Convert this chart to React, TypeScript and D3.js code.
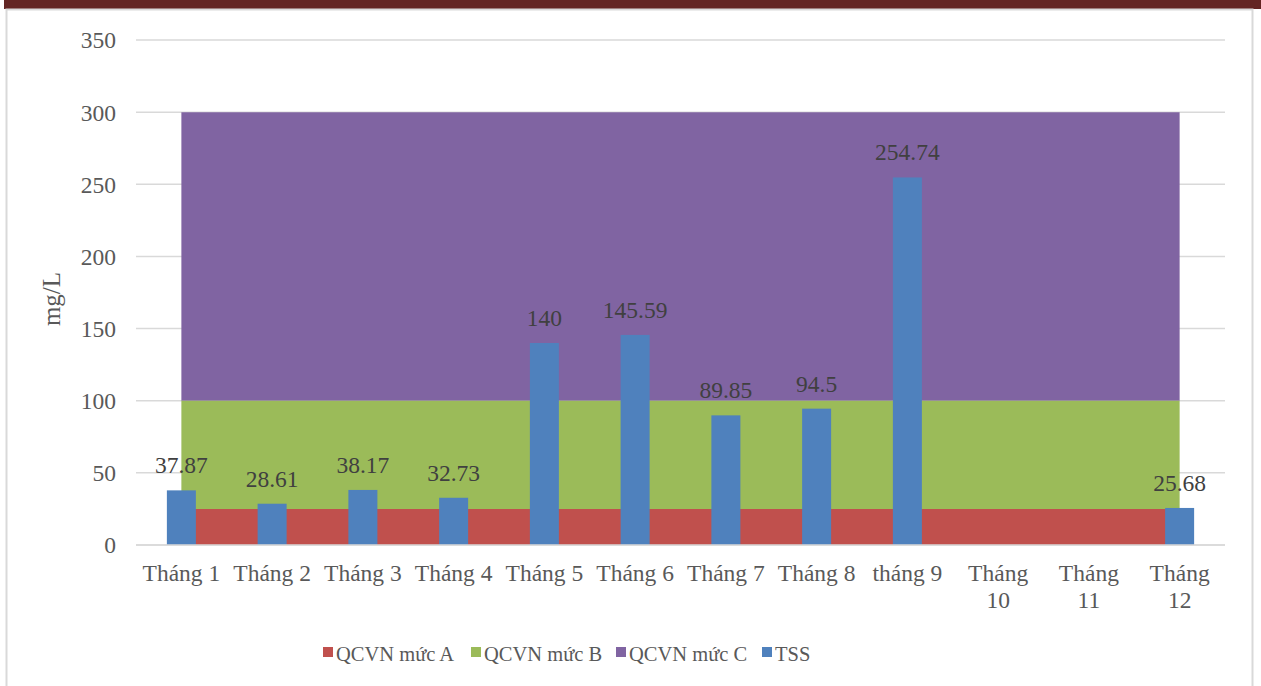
import React from "react";
import * as d3 from "d3";

const categories = ["Tháng 1", "Tháng 2", "Tháng 3", "Tháng 4", "Tháng 5", "Tháng 6", "Tháng 7", "Tháng 8", "tháng 9", "Tháng 10", "Tháng 11", "Tháng 12"];
const tss: (number | null)[] = [37.87, 28.61, 38.17, 32.73, 140, 145.59, 89.85, 94.5, 254.74, null, null, 25.68];
const qcvnA = [25, 25, 25, 25, 25, 25, 25, 25, 25, 25, 25, 25];
const qcvnB = [100, 100, 100, 100, 100, 100, 100, 100, 100, 100, 100, 100];
const qcvnC = [300, 300, 300, 300, 300, 300, 300, 300, 300, 300, 300, 300];
const yTicks = [0, 50, 100, 150, 200, 250, 300, 350];
const legendItems = ["QCVN mức A", "QCVN mức B", "QCVN mức C", "TSS"];

const COLORS = { A: "#C0504D", B: "#9BBB59", C: "#8064A2", TSS: "#4F81BD" };
const W = 1261, H = 686;
const plot = { left: 136, right: 1225, top: 40, bottom: 545 };
const FONT = "'Liberation Serif', 'Times New Roman', serif";
const TEXT = "#595959";

export default function App() {
  const x = d3.scaleBand<string>().domain(categories).range([plot.left, plot.right]).paddingInner(0).paddingOuter(0);
  const cx = (c: string) => (x(c) as number) + x.bandwidth() / 2;
  const y = d3.scaleLinear().domain([0, 350]).range([plot.bottom, plot.top]);
  const barW = 29;

  const areaGen = (lo: number[], hi: number[]) =>
    d3.area<number>()
      .x((_, i) => cx(categories[i]))
      .y0((_, i) => y(lo[i]))
      .y1((_, i) => y(hi[i]))(hi.map((v) => v)) as string;

  const zeros = qcvnA.map(() => 0);
  const legendColors = [COLORS.A, COLORS.B, COLORS.C, COLORS.TSS];
  const legendX = [323, 471, 616, 762];

  return (
    <svg width={W} height={H} style={{ position: "absolute", left: 0, top: 0, display: "block" }} fontFamily={FONT}>
      <rect x={0} y={0} width={W} height={H} fill="#ffffff" />
      <rect x={4} y={0} width={W - 4} height={9} fill="#632523" />
      <rect x={6.5} y={9.5} width={1246} height={680} fill="none" stroke="#D9D9D9" strokeWidth={2} />
      {yTicks.map((t) => (
        <g key={t}>
          <line x1={plot.left} x2={plot.right} y1={y(t)} y2={y(t)} stroke="#D9D9D9" strokeWidth={1.5} />
          <text x={116} y={y(t)} dy="0.36em" textAnchor="end" fontSize={23.5} fill={TEXT}>{t}</text>
        </g>
      ))}
      <path d={areaGen(qcvnB, qcvnC)} fill={COLORS.C} />
      <path d={areaGen(qcvnA, qcvnB)} fill={COLORS.B} />
      <path d={areaGen(zeros, qcvnA)} fill={COLORS.A} />
      {categories.map((c, i) => {
        const v = tss[i];
        if (v == null) return null;
        return <rect key={c} x={cx(c) - barW / 2} y={y(v)} width={barW} height={y(0) - y(v)} fill={COLORS.TSS} />;
      })}
      <line x1={plot.left} x2={plot.right} y1={y(0)} y2={y(0)} stroke="#D9D9D9" strokeWidth={1.5} />
      {categories.map((c, i) => {
        const v = tss[i];
        if (v == null) return null;
        return <text key={c} x={cx(c)} y={y(v) - 17} textAnchor="middle" fontSize={23.5} fill="#404040">{v}</text>;
      })}
      {categories.map((c) => {
        const parts = c.split(" ");
        const wrap = parts[1].length > 1;
        return (
          <text key={c} x={cx(c)} y={581} textAnchor="middle" fontSize={23.5} fill={TEXT}>
            {wrap ? (
              <>
                <tspan x={cx(c)}>{parts[0]}</tspan>
                <tspan x={cx(c)} dy={27}>{parts[1]}</tspan>
              </>
            ) : c}
          </text>
        );
      })}
      <text transform={`translate(60,299) rotate(-90)`} textAnchor="middle" fontSize={25} fill={TEXT}>mg/L</text>
      {legendItems.map((l, i) => (
        <g key={l}>
          <rect x={legendX[i]} y={647} width={10} height={10} fill={legendColors[i]} />
          <text x={legendX[i] + 13} y={661} fontSize={20.5} fill={TEXT}>{l}</text>
        </g>
      ))}
    </svg>
  );
}
